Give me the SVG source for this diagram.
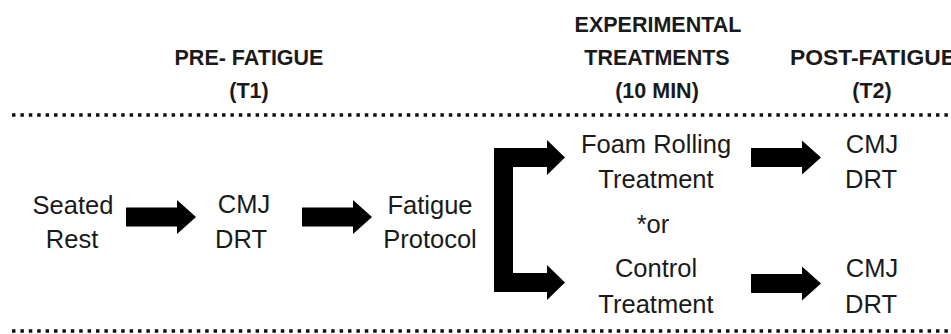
<svg xmlns="http://www.w3.org/2000/svg" width="951" height="334" viewBox="0 0 951 334">
<style>
text{font-family:"Liberation Sans",Arial,sans-serif;fill:#1a1a1a;text-anchor:middle}
.h{font-weight:bold;font-size:21.5px}
.b{font-size:25.5px}
.dot{stroke:#111;stroke-width:3.5;stroke-dasharray:3.5 4.9;fill:none}
.arr{fill:#000}
</style>
<defs>
<path id="arrow" d="M0,-9.5 H51 V-17 L70,0 L51,17 V9.5 H0 Z"/>
</defs>
<rect width="951" height="334" fill="#fff"/>
<g id="headers">
<g id="h-pre"><text class="h" x="249" y="65">PRE- FATIGUE</text><text class="h" x="249" y="98">(T1)</text></g>
<g id="h-exp"><text class="h" x="658" y="32">EXPERIMENTAL</text><text class="h" x="657" y="65">TREATMENTS</text><text class="h" x="657" y="98">(10 MIN)</text></g>
<g id="h-post"><text class="h" x="790" y="65" style="text-anchor:start" textLength="166" lengthAdjust="spacingAndGlyphs">POST-FATIGUE</text><text class="h" x="872" y="98">(T2)</text></g>
</g>
<g id="separators">
<line class="dot" x1="12" y1="115" x2="951" y2="115"/>
<line class="dot" x1="12" y1="331" x2="951" y2="331"/>
</g>
<g id="connectors">
<use href="#arrow" class="arr" x="126" y="217"/>
<use href="#arrow" class="arr" x="302" y="217"/>
<path class="arr" d="M494,148 H547 V140 L565,157.5 L547,175 V167 H513 V273 H547 V265 L565,282.5 L547,300 V292 H494 Z"/>
<use href="#arrow" class="arr" x="751" y="157.5"/>
<use href="#arrow" class="arr" x="751" y="283.5"/>
</g>
<g id="node-seated"><text class="b" x="73" y="214">Seated</text><text class="b" x="72" y="248">Rest</text></g>
<g id="node-t1"><text class="b" x="244" y="213">CMJ</text><text class="b" x="241" y="248">DRT</text></g>
<g id="node-fatigue"><text class="b" x="430" y="214">Fatigue</text><text class="b" x="430" y="248">Protocol</text></g>
<g id="node-foam"><text class="b" x="656" y="153">Foam Rolling</text><text class="b" x="656" y="188">Treatment</text></g>
<g id="node-or"><text class="b" x="653" y="233">*or</text></g>
<g id="node-control"><text class="b" x="656" y="277">Control</text><text class="b" x="656" y="313">Treatment</text></g>
<g id="node-t2a"><text class="b" x="872" y="153">CMJ</text><text class="b" x="871" y="188">DRT</text></g>
<g id="node-t2b"><text class="b" x="872" y="277">CMJ</text><text class="b" x="871" y="313">DRT</text></g>
</svg>
